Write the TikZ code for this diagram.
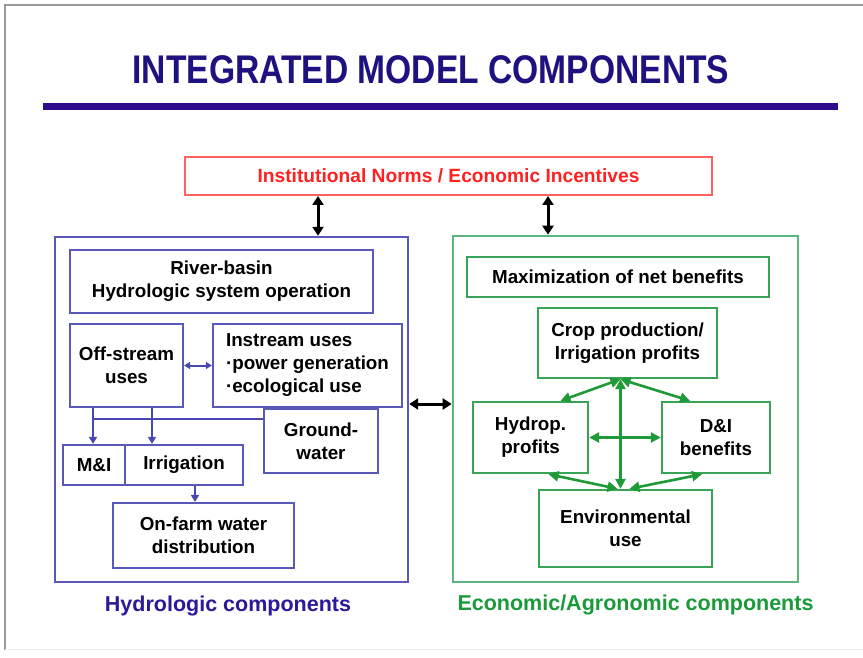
\documentclass[tikz,border=0pt]{standalone}
\usepackage{fontspec}
\setmainfont{Liberation Sans}
\usetikzlibrary{arrows.meta,calc}
\definecolor{titleblue}{HTML}{1E1280}
\definecolor{barblue}{HTML}{2E0C8C}
\definecolor{boxblue}{HTML}{5A58B8}
\definecolor{arrblue}{HTML}{4A48B0}
\definecolor{boxgreen}{HTML}{5CB47E}
\definecolor{innergreen}{HTML}{3AA456}
\definecolor{arrgreen}{HTML}{1E9A36}
\definecolor{labgreen}{HTML}{1A9A3A}
\definecolor{labblue}{HTML}{2A1A99}
\definecolor{redline}{HTML}{FF6060}
\definecolor{redtext}{HTML}{FF2020}
\tikzset{
  txt/.style={font=\bfseries\fontsize{18.8}{23}\selectfont, align=center, text=black, inner sep=0pt},
  bbox/.style={draw=boxblue, line width=2.2pt, rectangle, txt},
  gbox/.style={draw=innergreen, line width=2.4pt, rectangle, txt},
  bigblue/.style={draw=boxblue, line width=2.4pt, rectangle},
  biggreen/.style={draw=boxgreen, line width=2.6pt, rectangle},
  blackdbl/.style={black, line width=3pt, {Triangle[length=9pt,width=11pt]}-{Triangle[length=9pt,width=11pt]}},
  bluearr/.style={arrblue, line width=2.2pt, -{Triangle[length=7pt,width=8pt]}},
  bluedbl/.style={arrblue, line width=2pt, {Triangle[length=6pt,width=7pt]}-{Triangle[length=6pt,width=7pt]}},
  greendbl/.style={arrgreen, line width=2.6pt, {Triangle[length=10pt,width=10pt]}-{Triangle[length=10pt,width=10pt]}},
  lab/.style={font=\bfseries\fontsize{21.5}{24}\selectfont, inner sep=0pt}
}
\begin{document}
\begin{tikzpicture}[x=1pt,y=-1pt]
\useasboundingbox (0,0) rectangle (863,658);
\fill[white] (0,0) rectangle (863,658);
% slide frame
\draw[gray!80, line width=1.2pt] (5,650) -- (5,5) -- (863,5);
\draw[gray!15, line width=1pt] (5,649) -- (863,649);
% title
\node[font=\bfseries\fontsize{40}{44}\selectfont, text=titleblue, xscale=0.84, inner sep=0pt] (title) at (431,70) {INTEGRATED MODEL COMPONENTS};
\fill[barblue] (43,103) rectangle (838,110);
% top box
\node[draw=redline, line width=2pt, minimum width=527pt, minimum height=38pt, inner sep=0pt,
  font=\bfseries\fontsize{19.2}{23}\selectfont, text=redtext] (inst) at (448.5,176) {Institutional Norms / Economic Incentives};
% outer boxes
\node[bigblue, minimum width=353pt, minimum height=345pt] (hyd) at (231.5,409.5) {};
\node[biggreen, minimum width=345pt, minimum height=346pt] (eco) at (625.5,409) {};
% blue inner
\node[bbox, minimum width=303pt, minimum height=63pt] (river) at (221.5,281.5) {River-basin\\Hydrologic system operation};
\node[bbox, minimum width=113pt, minimum height=83pt] (off) at (126.5,365.5) {Off-stream\\uses};
\node[bbox, minimum width=189pt, minimum height=83pt, align=left] (instr) at (307.5,365.5) {Instream uses\\·power generation\\·ecological use};
\node[bbox, minimum width=114pt, minimum height=64pt] (gw) at (321,441) {Ground-\\water};
\node[bbox, minimum width=62pt, minimum height=40pt] (mi) at (94,465) {M\&I};
\node[bbox, minimum width=118pt, minimum height=40pt] (irr) at (184,465) {Irrigation};
\node[bbox, minimum width=181pt, minimum height=65pt] (farm) at (203.5,535.5) {On-farm water\\distribution};
% green inner
\node[gbox, minimum width=302pt, minimum height=40pt] (max) at (618,277) {Maximization of net benefits};
\node[gbox, minimum width=179pt, minimum height=70pt] (crop) at (627.5,343) {Crop production/\\Irrigation profits};
\node[gbox, minimum width=115pt, minimum height=71pt] (hp) at (530.5,437.5) {Hydrop.\\profits};
\node[gbox, minimum width=108pt, minimum height=71pt] (di) at (716,437.5) {D\&I\\benefits};
\node[gbox, minimum width=173pt, minimum height=77pt] (env) at (625.5,528.5) {Environmental\\use};
% labels
\node[lab, text=labblue] (hydlab) at (228,606) {Hydrologic components};
\node[lab, text=labgreen] (ecolab) at (635.5,605) {Economic/Agronomic components};
% helper coordinates
\coordinate (ax1) at (318,0);
\coordinate (ax2) at (548,0);
\coordinate (bx2) at (152,0);
\coordinate (bx3) at (195,0);
\coordinate (hy) at (0,404);
\coordinate (jn) at (93,419);
% black arrows
\draw[blackdbl] (inst.south -| ax1) -- (hyd.north -| ax1);
\draw[blackdbl] (inst.south -| ax2) -- (eco.north -| ax2);
\draw[blackdbl] (hyd.east |- hy) -- (eco.west |- hy);
% blue arrows
\draw[bluedbl] (off.east) -- (instr.west);
\draw[arrblue, line width=2.2pt] (jn) -- (gw.west |- jn);
\draw[bluearr] (off.south -| jn) -- (mi.north -| jn);
\draw[bluearr] (off.south -| bx2) -- (irr.north -| bx2);
\draw[bluearr] (irr.south -| bx3) -- (farm.north -| bx3);
% green arrows
\coordinate (cb) at ($(crop.south)+(-7,0)$);
\draw[greendbl] (cb) -- ($(hp.north)+(30,0)$);
\draw[greendbl] ($(crop.south)+(-7,0)$) -- ($(di.north)+(-26,0)$);
\draw[greendbl] (cb) -- (cb |- env.north);
\draw[greendbl] (hp.east) -- (di.west);
\draw[greendbl] ($(env.north)+(-8,0)$) -- ($(hp.south)+(18,0)$);
\draw[greendbl] ($(env.north)+(4,0)$) -- ($(di.south)+(-14,0)$);
\end{tikzpicture}
\end{document}
